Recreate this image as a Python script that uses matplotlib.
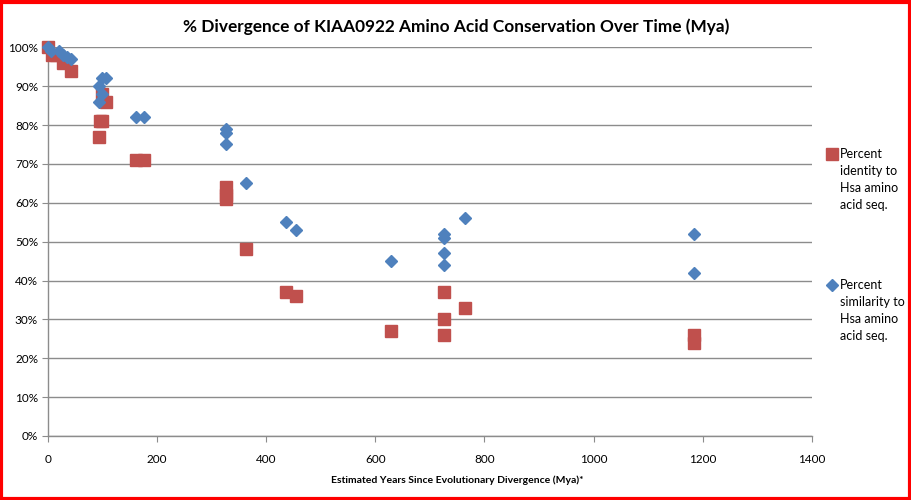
import matplotlib
matplotlib.use("Agg")
import matplotlib.pyplot as plt
from matplotlib.lines import Line2D
from matplotlib.patches import Rectangle
from matplotlib.ticker import PercentFormatter, MultipleLocator

plt.rcParams['font.family'] = ['Lato', 'DejaVu Sans']

# Percent identity to Hsa amino acid seq.
identity_x = [0, 7, 16, 28.5, 43, 94, 99, 95, 100, 107, 162, 176,
              326, 326, 326, 363, 437, 455, 629, 726, 726, 726, 765, 1184, 1184]
identity_y = [100, 98, 98, 96, 94, 77, 88, 81, 81, 86, 71, 71,
              64, 62, 61, 48, 37, 36, 27, 37, 30, 26, 33, 26, 24]
# Percent similarity to Hsa amino acid seq.
similarity_x = [0, 5.5, 21, 27.5, 35, 43, 94, 99, 99, 107, 94, 162, 176,
                326, 326, 326, 363, 437, 455, 629, 726, 726, 726, 726, 765, 1184, 1184]
similarity_y = [100, 99, 99, 98, 97.5, 97, 86, 92, 88, 92, 90, 82, 82,
                79, 78, 75, 65, 55, 53, 45, 52, 51, 47, 44, 56, 52, 42]

red = '#C0504D'
blue = '#4F81BD'

fig = plt.figure(figsize=(9.11, 5.0), dpi=100)
ax = fig.add_axes([0.0524, 0.128, 0.8389, 0.7774])

ax.plot(identity_x, identity_y, linestyle='none', marker='s', markersize=8,
        color=red, markeredgecolor=red, label='Percent identity', zorder=3, clip_on=False)
ax.plot(similarity_x, similarity_y, linestyle='none', marker='D', markersize=6.5,
        color=blue, markeredgecolor=blue, label='Percent similarity', zorder=4, clip_on=False)

ax.set_xlim(0, 1400)
ax.set_ylim(0, 100)
ax.xaxis.set_major_locator(MultipleLocator(200))
ax.yaxis.set_major_locator(MultipleLocator(10))
ax.yaxis.set_major_formatter(PercentFormatter(decimals=0))
ax.grid(axis='y', color='#8C8C8C', linewidth=1.0)
ax.set_axisbelow(True)
for s in ['top', 'right']:
    ax.spines[s].set_visible(False)
for s in ['left', 'bottom']:
    ax.spines[s].set_color('#8C8C8C')
    ax.spines[s].set_linewidth(1.0)
ax.tick_params(axis='both', colors='#8C8C8C', labelcolor='black', labelsize=8.5,
               length=4, direction='out')
ax.tick_params(axis='x', pad=9)
ax.tick_params(axis='y', pad=3)

fig.text(457 / 911, 1 - 480 / 500, 'Estimated Years Since Evolutionary Divergence (Mya)*',
         ha='center', va='center', fontsize=7.5, fontweight='bold')
fig.text(456 / 911, 1 - 27 / 500, '% Divergence of KIAA0922 Amino Acid Conservation Over Time (Mya)',
         ha='center', va='center', fontsize=12.4, fontweight='bold')

# legend
fig.add_artist(Line2D([832 / 911], [1 - 154 / 500], marker='s', markersize=8,
                      color=red, transform=fig.transFigure))
fig.text(840 / 911, 1 - 148 / 500, 'Percent\nidentity to\nHsa amino\nacid seq.',
         ha='left', va='top', fontsize=9, linespacing=1.5)
fig.add_artist(Line2D([832 / 911], [1 - 285 / 500], marker='D', markersize=6.5,
                      color=blue, transform=fig.transFigure))
fig.text(840 / 911, 1 - 279 / 500, 'Percent\nsimilarity to\nHsa amino\nacid seq.',
         ha='left', va='top', fontsize=9, linespacing=1.5)

fig.add_artist(Rectangle((0.0015, 0.003), 0.997, 0.994, transform=fig.transFigure,
                         fill=False, edgecolor='#FF0000', linewidth=3))

fig.savefig('out.png', dpi=100)
